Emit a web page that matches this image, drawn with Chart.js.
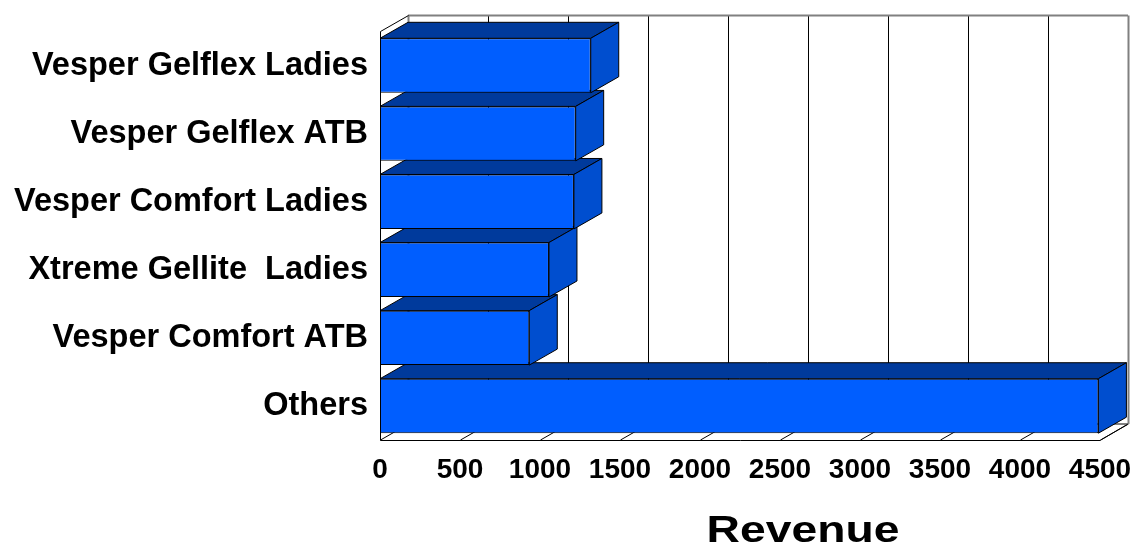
<!DOCTYPE html>
<html>
<head>
<meta charset="utf-8">
<script src="https://cdn.jsdelivr.net/npm/chart.js@4"></script>
<style>
  body{margin:0;background:#fff;}
  #chart{display:block;}
</style>
</head>
<body>
<canvas id="chart" width="1137" height="553"></canvas>
<script>
const categories = ['Vesper Gelflex Ladies','Vesper Gelflex ATB','Vesper Comfort Ladies','Xtreme Gellite  Ladies','Vesper Comfort ATB','Others'];
const revenue = [1317, 1223, 1212, 1056, 933, 4490];
const xMin = 0, xMax = 4500, xStep = 500;
const axisTitle = 'Revenue';

const FONT = "'Liberation Sans', Arial, sans-serif";
const DX = 28, DY = 16;

// fake 3d: walls, floor, back grid, bar tops and sides
const box3d = {
  id:'box3d',
  beforeDatasetsDraw(chart){
    const {ctx, chartArea:a, scales:{x}} = chart;
    ctx.save();
    ctx.lineWidth = 1;
    // back grid lines + floor lines
    x.ticks.forEach((t,i)=>{
      const px = Math.round(x.getPixelForValue(t.value)) + 0.5;
      const edge = (i===0 || i===x.ticks.length-1);
      ctx.strokeStyle = '#000';
      ctx.beginPath();
      ctx.moveTo(px, a.bottom);
      ctx.lineTo(px+DX, a.bottom-DY);
      ctx.stroke();
      ctx.strokeStyle = edge ? '#808080' : '#000';
      ctx.lineWidth = edge ? 2 : 1;
      ctx.beginPath();
      ctx.moveTo(px+DX, a.bottom-DY);
      ctx.lineTo(px+DX, a.top-DY);
      ctx.stroke();
      ctx.lineWidth = 1;
    });
    // top edge of back wall and floor back edge
    ctx.strokeStyle = '#808080';
    ctx.lineWidth = 2;
    ctx.beginPath();
    ctx.moveTo(a.left+DX, a.top-DY);
    ctx.lineTo(a.right+DX, a.top-DY);
    ctx.moveTo(a.left+DX, a.bottom-DY);
    ctx.lineTo(a.right+DX, a.bottom-DY);
    ctx.stroke();
    // front edges
    ctx.strokeStyle = '#000';
    ctx.lineWidth = 1;
    ctx.beginPath();
    ctx.moveTo(a.left+0.5, a.top);
    ctx.lineTo(a.left+0.5, a.bottom+0.5);
    ctx.lineTo(a.right, a.bottom+0.5);
    ctx.lineTo(a.right+DX, a.bottom-DY);
    ctx.moveTo(a.left+0.5, a.top);
    ctx.lineTo(a.left+DX+0.5, a.top-DY);
    ctx.stroke();

    // bar tops and sides, bottom bar first
    const meta = chart.getDatasetMeta(0);
    for(let i=meta.data.length-1;i>=0;i--){
      const b = meta.data[i].getProps(['x','y','base','height'], true);
      const top = b.y - b.height/2, bot = b.y + b.height/2;
      const l = b.base, r = b.x;
      ctx.fillStyle = '#003A9C';
      ctx.beginPath();
      ctx.moveTo(l, top); ctx.lineTo(r, top); ctx.lineTo(r+DX, top-DY); ctx.lineTo(l+DX, top-DY);
      ctx.closePath(); ctx.fill(); ctx.stroke();
      ctx.fillStyle = '#004ECF';
      ctx.beginPath();
      ctx.moveTo(r, top); ctx.lineTo(r+DX, top-DY); ctx.lineTo(r+DX, bot-DY); ctx.lineTo(r, bot);
      ctx.closePath(); ctx.fill(); ctx.stroke();
    }
    ctx.restore();
  },
  afterDraw(chart){
    const {ctx} = chart;
    ctx.save();
    ctx.fillStyle = '#000';
    ctx.font = `bold 37px ${FONT}`;
    ctx.textAlign = 'center';
    ctx.textBaseline = 'alphabetic';
    ctx.translate(803, 542);
    ctx.scale(1.25, 1);
    ctx.fillText(axisTitle, 0, 0);
    ctx.restore();
  }
};

new Chart(document.getElementById('chart'), {
  type:'bar',
  data:{
    labels: categories,
    datasets:[{
      label: axisTitle,
      data: revenue,
      backgroundColor:'#005EFF',
      borderColor:'#000',
      borderWidth:1,
      borderSkipped:false,
      categoryPercentage:0.8,
      barPercentage:1.0
    }]
  },
  options:{
    indexAxis:'y',
    responsive:false,
    animation:false,
    layout:{padding:{top:27, right:37, left:0, bottom:0}},
    plugins:{legend:{display:false}, tooltip:{enabled:false}},
    scales:{
      x:{
        min:xMin, max:xMax,
        grid:{display:false, drawTicks:false},
        border:{display:false},
        ticks:{stepSize:xStep, padding:13, color:'#000', font:{family:FONT, size:28, weight:'bold'},
          callback:(v)=>String(v)},
        afterFit(scale){ scale.height = 113; scale.paddingRight = 0; scale.paddingLeft = 0; }
      },
      y:{
        grid:{display:false, drawTicks:false},
        border:{display:false},
        ticks:{padding:12, color:'#000', font:{family:FONT, size:32.5, weight:'bold'}},
        afterFit(scale){ scale.width = 380; }
      }
    }
  },
  plugins:[box3d]
});
</script>
</body>
</html>
